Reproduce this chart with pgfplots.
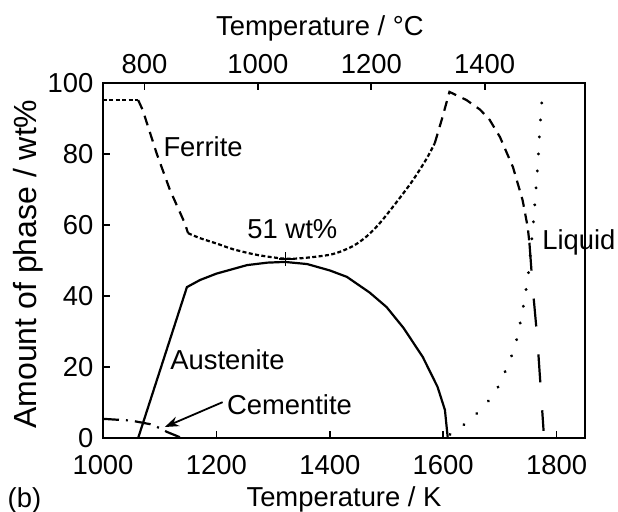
\documentclass[border=0pt]{standalone}
\usepackage{fontspec}
\setmainfont{Liberation Sans}
\usepackage{pgfplots}
\pgfplotsset{compat=1.18}
\usetikzlibrary{arrows.meta}
\begin{document}
\fontsize{13.7}{16}\selectfont
\begin{tikzpicture}
\useasboundingbox (-51.5pt,-36.5pt) rectangle (257.5pt,219pt);
\begin{axis}[
  at={(0,0)}, anchor=south west,
  width=241pt, height=177.5pt, scale only axis,
  xmin=1000, xmax=1850, ymin=0, ymax=100,
  xtick={1000,1200,1400,1600,1800},
  ytick={0,20,40,60,80,100},
  xtick pos=bottom, ytick pos=left,
  tick align=inside, major tick length=3.5pt,
  axis line style={line width=1pt},
  tick style={line width=0.8pt,black},
  /pgf/number format/assume math mode=true,
  /pgf/number format/1000 sep={},
  xticklabel style={yshift=-4pt},
  xlabel={Temperature / K},
  ylabel={Amount of phase / wt\%},
  xlabel style={at={(axis description cs:0.5,-0.172)}, anchor=center},
  ylabel style={at={(axis description cs:-0.156,0.49)}, rotate=0, anchor=center, font=\fontsize{16}{18}\selectfont},
  clip=false,
]
% Ferrite
\addplot[line width=1.1pt, dash pattern=on 2pt off 1.2pt] coordinates {(1000,95.2) (1062,95.2)};
\addplot[line width=1.1pt, dash pattern=on 5pt off 3.5pt] coordinates {(1062,95.2) (1070,92.4) (1095,80) (1118,69.9) (1144,60.6) (1150,57.7)};
\addplot[line width=1.1pt, dash pattern=on 2pt off 1.2pt, smooth] coordinates {(1150,57.7) (1171,56.3) (1200,54.8) (1229,53.2) (1271,51.6) (1322,50.5) (1360,50.8) (1405,51.8) (1440,54) (1465,56.8) (1488,60.5) (1518,66.5) (1546,72.5) (1570,78.5) (1585,83)};
\addplot[line width=1.1pt, dash pattern=on 5pt off 3.5pt] coordinates {(1585,83) (1598,90) (1611,97.5) (1641,95.2) (1665,92.5) (1682,89.6) (1700,84.8) (1723,76.3) (1740,67) (1749,59.4) (1752,55)};
\addplot[line width=1.1pt, dash pattern=on 14pt off 14pt] coordinates {(1752,55) (1758,42) (1766,28) (1777,2)};
% Austenite
\addplot[line width=1.1pt, solid] coordinates {(1062,0) (1148,42.5) (1171,44.5) (1200,46.3) (1254,48.7) (1290,49.4) (1321,49.6) (1360,49) (1400,47.2) (1430,45.4) (1470,41) (1500,36.9) (1530,31) (1564,22.8) (1590,14.4) (1603,7.9) (1608,0)};
% Liquid
\addplot[line width=1.6pt, line cap=round, dash pattern=on 0.01pt off 8.5pt, smooth] coordinates {(1612,1) (1645,4.8) (1670,8.7) (1691,12.7) (1705,17.2) (1717,21.7) (1726,25.6) (1733,30.1) (1738,34.4) (1743,38.6) (1747,42.8) (1751,47.3) (1755,54) (1759,60.6) (1763,69) (1767,77.5) (1770,86) (1774,95)};
% Cementite
\addplot[line width=1.1pt, dash pattern=on 8pt off 3.5pt on 1pt off 3.5pt] coordinates {(1000,5.4) (1050,4.9) (1083,3.9) (1100,2.8) (1113,1.7) (1139,0)};
% 51 wt% point
\addplot[only marks, mark=+, mark size=3.5pt, mark options={line width=0.9pt}] coordinates {(1322,50.4)};
\draw[-{Stealth[length=7pt,width=5pt]}, line width=0.9pt] (axis cs:1211,10.1) -- (axis cs:1109,3.1);
\node[anchor=base west, inner sep=0pt] at (axis cs:1106,79.2) {Ferrite};
\node[anchor=base west, inner sep=0pt] at (axis cs:1118,19.2) {Austenite};
\node[anchor=base west, inner sep=0pt] at (axis cs:1218,6.5) {Cementite};
\node[anchor=base west, inner sep=0pt] at (axis cs:1254,56.3) {51 wt\%};
\node[anchor=base west, inner sep=0pt] at (axis cs:1774,53) {Liquid};
\node[anchor=center, inner sep=0pt] at (axis description cs:-0.163,-0.176) {(b)};
\end{axis}
\begin{axis}[
  at={(0,0)}, anchor=south west,
  width=241pt, height=177.5pt, scale only axis,
  xmin=726.85, xmax=1576.85, ymin=0, ymax=100,
  axis x line*=top, hide y axis,
  xtick={800,1000,1200,1400},
  tick align=inside, major tick length=3.5pt,
  axis line style={line width=1pt},
  tick style={line width=0.8pt,black},
  /pgf/number format/assume math mode=true,
  /pgf/number format/1000 sep={},
  xlabel={Temperature / °C},
  xlabel style={at={(axis description cs:0.45,1.155)}, anchor=center},
]
\addplot[draw=none] coordinates {(800,50)};
\end{axis}
\end{tikzpicture}
\end{document}
